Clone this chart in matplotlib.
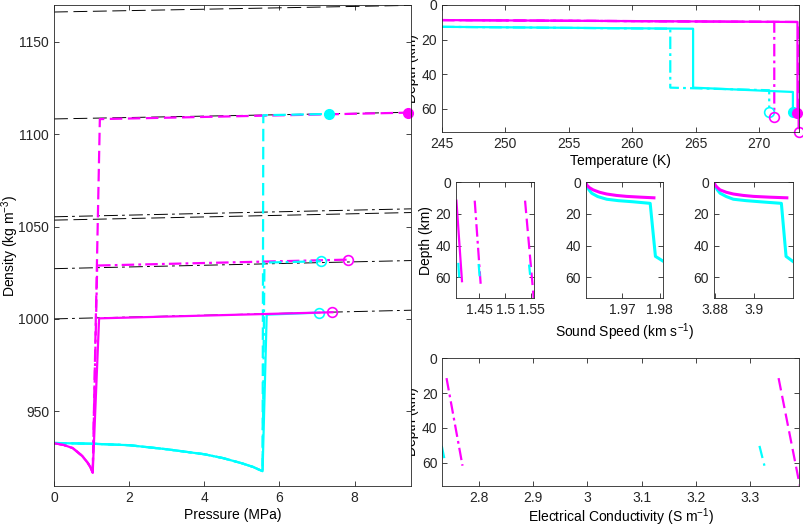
import matplotlib
matplotlib.use('Agg')
import matplotlib.pyplot as plt
from matplotlib.ticker import FuncFormatter
import numpy as np

plt.rcParams['font.family'] = ['Liberation Sans', 'DejaVu Sans']
plt.rcParams['font.size'] = 10
plt.rcParams['mathtext.fontset'] = 'custom'
plt.rcParams['mathtext.rm'] = 'Liberation Sans'
plt.rcParams['mathtext.it'] = 'Liberation Sans:italic'
plt.rcParams['lines.scale_dashes'] = False

MAG = '#ff00ff'
CYA = '#00ffff'
AXC = '#262626'

# ---------------- density vs pressure ----------------
# ice shell (shared by all three ocean cases of one colour)
ice_P_mag = [0, 0.25, 0.5, 0.75, 0.9, 0.97, 1.03]
ice_rho_mag = [932.7, 931.8, 930.0, 925.8, 922.0, 919.6, 916.7]
ice_P_cya = [0, 1, 2, 3, 4, 4.5, 5, 5.3, 5.55]
ice_rho_cya = [932.8, 932.4, 931.6, 929.4, 926.7, 924.6, 921.8, 919.8, 917.5]

# ocean parts
oc_P_mag_solid = [1.20, 7.41]
oc_rho_mag_solid = [1000.3, 1003.6]
oc_P_mag_dashdot = [1.15, 7.82]
oc_rho_mag_dashdot = [1028.9, 1032.1]
oc_P_mag_dashed = [1.22, 9.42]
oc_rho_mag_dashed = [1108.2, 1111.7]
oc_P_cya_solid = [5.66, 7.06]
oc_rho_cya_solid = [1002.3, 1003.4]
oc_P_cya_dashdot = [5.60, 7.10]
oc_rho_cya_dashdot = [1030.5, 1031.2]
oc_P_cya_dashed = [5.57, 7.33]
oc_rho_cya_dashed = [1110.3, 1111.0]

# black reference lines
ref_P = [0, 9.5]
ref_rho_dashed = [[1166.2, 1169.8], [1108.3, 1111.9], [1053.5, 1057.6]]
ref_rho_dashdot = [[1055.3, 1059.6], [1027.2, 1031.6], [1000.0, 1004.7]]

# ---------------- temperature vs depth ----------------
T_mag_solid = [245, 273.03, 273.03]
z_T_mag_solid = [8.7, 9.8, 62.4]
T_mag_dashdot = [245, 271.2, 271.2]
z_T_mag_dashdot = [8.7, 9.8, 62.0]
T_mag_dashed = [245, 273.12, 273.12]
z_T_mag_dashed = [8.7, 9.8, 73.3]
T_cya_solid = [245, 264.8, 264.8, 272.67, 272.67]
z_T_cya_solid = [12.6, 13.7, 47.7, 50.2, 62.0]
T_cya_dashdot = [245, 263.0, 263.0, 270.8, 270.8]
z_T_cya_dashdot = [12.6, 13.7, 47.7, 49.2, 58.9]

T_mark_filled_mag = [273.03]
z_mark_filled_mag = [62.4]
T_mark_open_mag = [271.2, 273.15]
z_mark_open_mag = [64.5, 73.3]
T_mark_filled_cya = [272.67]
z_mark_filled_cya = [62.0]
T_mark_open_cya = [270.8]
z_mark_open_cya = [61.8]

# ---------------- sound speeds ----------------
c_oc_mag_solid = [1.4058, 1.4165]
z_oc_mag_solid = [11.6, 62.5]
c_oc_cya_solid = [1.4095, 1.4110]
z_oc_cya_solid = [51.6, 59.4]
c_oc_mag_dashdot = [1.4410, 1.4525]
z_oc_mag_dashdot = [11.6, 64.6]
c_oc_cya_dashdot = [1.4485, 1.4505]
z_oc_cya_dashdot = [51.6, 59.4]
c_oc_mag_dashed = [1.5378, 1.5545]
z_oc_mag_dashed = [11.6, 73.3]
c_oc_cya_dashed = [1.5455, 1.5475]
z_oc_cya_dashed = [52.0, 58.5]

vp_ice_mag = [1.9603, 1.9606, 1.9613, 1.9623, 1.9640, 1.9659, 1.9685, 1.9712, 1.9750, 1.9785]
z_vp_mag = [0, 1.8, 3.4, 4.8, 6.3, 7.4, 8.3, 8.9, 9.4, 9.8]
vp_ice_cya = [1.9603, 1.9606, 1.9612, 1.9619, 1.9635, 1.9659, 1.9690, 1.9729, 1.9775, 1.9789, 1.9810]
z_vp_cya = [0, 2.5, 4.8, 6.9, 9.0, 10.7, 11.6, 12.3, 13.3, 46.8, 49.9]

vs_ice_mag = [3.8795, 3.8801, 3.8813, 3.8826, 3.8858, 3.8894, 3.8945, 3.8997, 3.9080, 3.9168]
z_vs_mag = [0, 1.8, 3.4, 4.8, 6.3, 7.4, 8.3, 8.9, 9.4, 9.8]
vs_ice_cya = [3.8795, 3.8801, 3.8812, 3.8826, 3.8858, 3.8894, 3.8960, 3.9031, 3.9140, 3.9164, 3.9198]
z_vs_cya = [0, 2.5, 4.8, 6.9, 9.0, 10.7, 11.6, 12.3, 13.3, 46.8, 49.9]

# ---------------- conductivity ----------------
ec_mag_dashdot = [2.7398, 2.7693]
z_ec_mag_dashdot = [11.4, 61.8]
ec_mag_dashed = [3.3528, 3.3920]
z_ec_mag_dashed = [11.4, 73.3]
ec_cya_dashdot = [2.7310, 2.7372]
z_ec_cya_dashdot = [50.4, 59.8]
ec_cya_dashed = [3.3175, 3.3267]
z_ec_cya_dashed = [50.4, 61.8]

DASH = (0, (9, 4))
DDOT = (0, (9, 3, 2, 3))
LW = 1.6

W, H = 804, 528


def box(l, t, r, b):
    return [l / W, 1 - b / H, (r - l) / W, (b - t) / H]


def style(ax):
    for s in ax.spines.values():
        s.set_linewidth(0.6)
        s.set_color(AXC)
    ax.tick_params(direction='in', top=True, right=True, length=3.5,
                   width=0.6, colors=AXC, labelcolor=AXC)
    ax.xaxis.set_major_formatter(FuncFormatter(lambda v, p: '%g' % v))
    ax.yaxis.set_major_formatter(FuncFormatter(lambda v, p: '%g' % v))


fig = plt.figure(figsize=(8.04, 5.28), dpi=100)

# temperature
axT = fig.add_axes(box(442, 5, 799, 132))
axT.plot(T_mag_dashed, z_T_mag_dashed, color=MAG, lw=LW, ls=DASH)
axT.plot(T_mag_dashdot, z_T_mag_dashdot, color=MAG, lw=LW, ls=DDOT)
axT.plot(T_cya_dashdot, z_T_cya_dashdot, color=CYA, lw=LW, ls=DDOT)
axT.plot(T_cya_solid, z_T_cya_solid, color=CYA, lw=LW)
axT.plot(T_mag_solid, z_T_mag_solid, color=MAG, lw=LW)
axT.plot(T_mark_filled_cya, z_mark_filled_cya, 'o', color=CYA, ms=7, clip_on=False)
axT.plot(T_mark_open_cya, z_mark_open_cya, 'o', mec=CYA, mfc='none', ms=7, mew=1.2, clip_on=False)
axT.plot(T_mark_filled_mag, z_mark_filled_mag, 'o', color=MAG, ms=7, clip_on=False)
axT.plot(T_mark_open_mag, z_mark_open_mag, 'o', mec=MAG, mfc='none', ms=7, mew=1.2, clip_on=False)
axT.set_xlim(245, 273.15)
axT.set_ylim(73.3, 0)
axT.set_xticks([245, 250, 255, 260, 265, 270])
axT.set_yticks([0, 20, 40, 60])
axT.set_xlabel('Temperature (K)', labelpad=2)
axT.set_ylabel('Depth (km)', labelpad=2)
style(axT)

# sound speed - ocean
axC1 = fig.add_axes(box(456, 182.3, 534, 298.3))
axC1.plot(c_oc_mag_solid, z_oc_mag_solid, color=MAG, lw=LW)
axC1.plot(c_oc_cya_solid, z_oc_cya_solid, color=CYA, lw=LW)
axC1.plot(c_oc_mag_dashdot, z_oc_mag_dashdot, color=MAG, lw=LW, ls=DDOT)
axC1.plot(c_oc_cya_dashdot, z_oc_cya_dashdot, color=CYA, lw=LW, ls=DDOT)
axC1.plot(c_oc_mag_dashed, z_oc_mag_dashed, color=MAG, lw=LW, ls=DASH)
axC1.plot(c_oc_cya_dashed, z_oc_cya_dashed, color=CYA, lw=LW, ls=DASH)
axC1.set_xlim(1.405, 1.555)
axC1.set_ylim(73.3, 0)
axC1.set_xticks([1.45, 1.5, 1.55])
axC1.set_yticks([0, 20, 40, 60])
axC1.set_ylabel('Depth (km)', labelpad=2)
style(axC1)

# sound speed - ice P
axC2 = fig.add_axes(box(585.7, 182.3, 663.3, 298.3))
axC2.plot(vp_ice_cya, z_vp_cya, color=CYA, lw=2.2)
axC2.plot(vp_ice_mag, z_vp_mag, color=MAG, lw=2.2)
axC2.set_xlim(1.9603, 1.981)
axC2.set_ylim(73.3, 0)
axC2.set_xticks([1.97, 1.98])
axC2.set_yticks([0, 20, 40, 60])
axC2.set_xlabel('Sound Speed (km s$^{-1}$)', labelpad=3)
style(axC2)

# sound speed - ice S
axC3 = fig.add_axes(box(714, 182.3, 792.7, 298.3))
axC3.plot(vs_ice_cya, z_vs_cya, color=CYA, lw=2.2)
axC3.plot(vs_ice_mag, z_vs_mag, color=MAG, lw=2.2)
axC3.set_xlim(3.8795, 3.9198)
axC3.set_ylim(73.3, 0)
axC3.set_xticks([3.88, 3.9])
axC3.set_yticks([0, 20, 40, 60])
style(axC3)

# conductivity
axE = fig.add_axes(box(442.3, 358.3, 799, 485.7))
axE.plot(ec_mag_dashdot, z_ec_mag_dashdot, color=MAG, lw=LW, ls=DDOT)
axE.plot(ec_mag_dashed, z_ec_mag_dashed, color=MAG, lw=LW, ls=DASH)
axE.plot(ec_cya_dashdot, z_ec_cya_dashdot, color=CYA, lw=LW, ls=DDOT)
axE.plot(ec_cya_dashed, z_ec_cya_dashed, color=CYA, lw=LW, ls=DASH)
axE.set_xlim(2.732, 3.3905)
axE.set_ylim(73.3, 0)
axE.set_xticks([2.8, 2.9, 3.0, 3.1, 3.2, 3.3])
axE.set_yticks([0, 20, 40, 60])
axE.set_xlabel('Electrical Conductivity (S m$^{-1}$)', labelpad=1)
axE.set_ylabel('Depth (km)', labelpad=2)
style(axE)

# density (drawn on top of the others)
axR = fig.add_axes(box(54, 5, 411, 486))
axR.set_zorder(5)
for r in ref_rho_dashed:
    axR.plot(ref_P, r, color='k', lw=0.7, ls=(0, (10, 4)))
for r in ref_rho_dashdot:
    axR.plot(ref_P, r, color='k', lw=0.7, ls=(0, (10, 3, 2, 3)))

series = [
    (ice_P_mag, ice_rho_mag, oc_P_mag_dashed, oc_rho_mag_dashed, MAG, DASH),
    (ice_P_cya, ice_rho_cya, oc_P_cya_dashed, oc_rho_cya_dashed, CYA, DASH),
    (ice_P_mag, ice_rho_mag, oc_P_mag_dashdot, oc_rho_mag_dashdot, MAG, DDOT),
    (ice_P_cya, ice_rho_cya, oc_P_cya_dashdot, oc_rho_cya_dashdot, CYA, DDOT),
    (ice_P_cya, ice_rho_cya, oc_P_cya_solid, oc_rho_cya_solid, CYA, '-'),
    (ice_P_mag, ice_rho_mag, oc_P_mag_solid, oc_rho_mag_solid, MAG, '-'),
]
for ip, ir, op, orho, col, ls in series:
    axR.plot(np.r_[ip, op], np.r_[ir, orho], color=col, lw=LW, ls=ls)
    if ls == DASH:
        axR.plot(op[-1], orho[-1], 'o', color=col, ms=7, clip_on=False)
    else:
        axR.plot(op[-1], orho[-1], 'o', mec=col, mfc='none', ms=7, mew=1.2, clip_on=False)

axR.set_xlim(0, 9.5)
axR.set_ylim(909.5, 1170)
axR.set_xticks([0, 2, 4, 6, 8])
axR.set_yticks([950, 1000, 1050, 1100, 1150])
axR.set_xlabel('Pressure (MPa)', labelpad=2)
axR.set_ylabel('Density (kg m$^{-3}$)')
axR.yaxis.set_label_coords(-0.093, 0.5)
style(axR)

fig.savefig('out.png', dpi=100)
